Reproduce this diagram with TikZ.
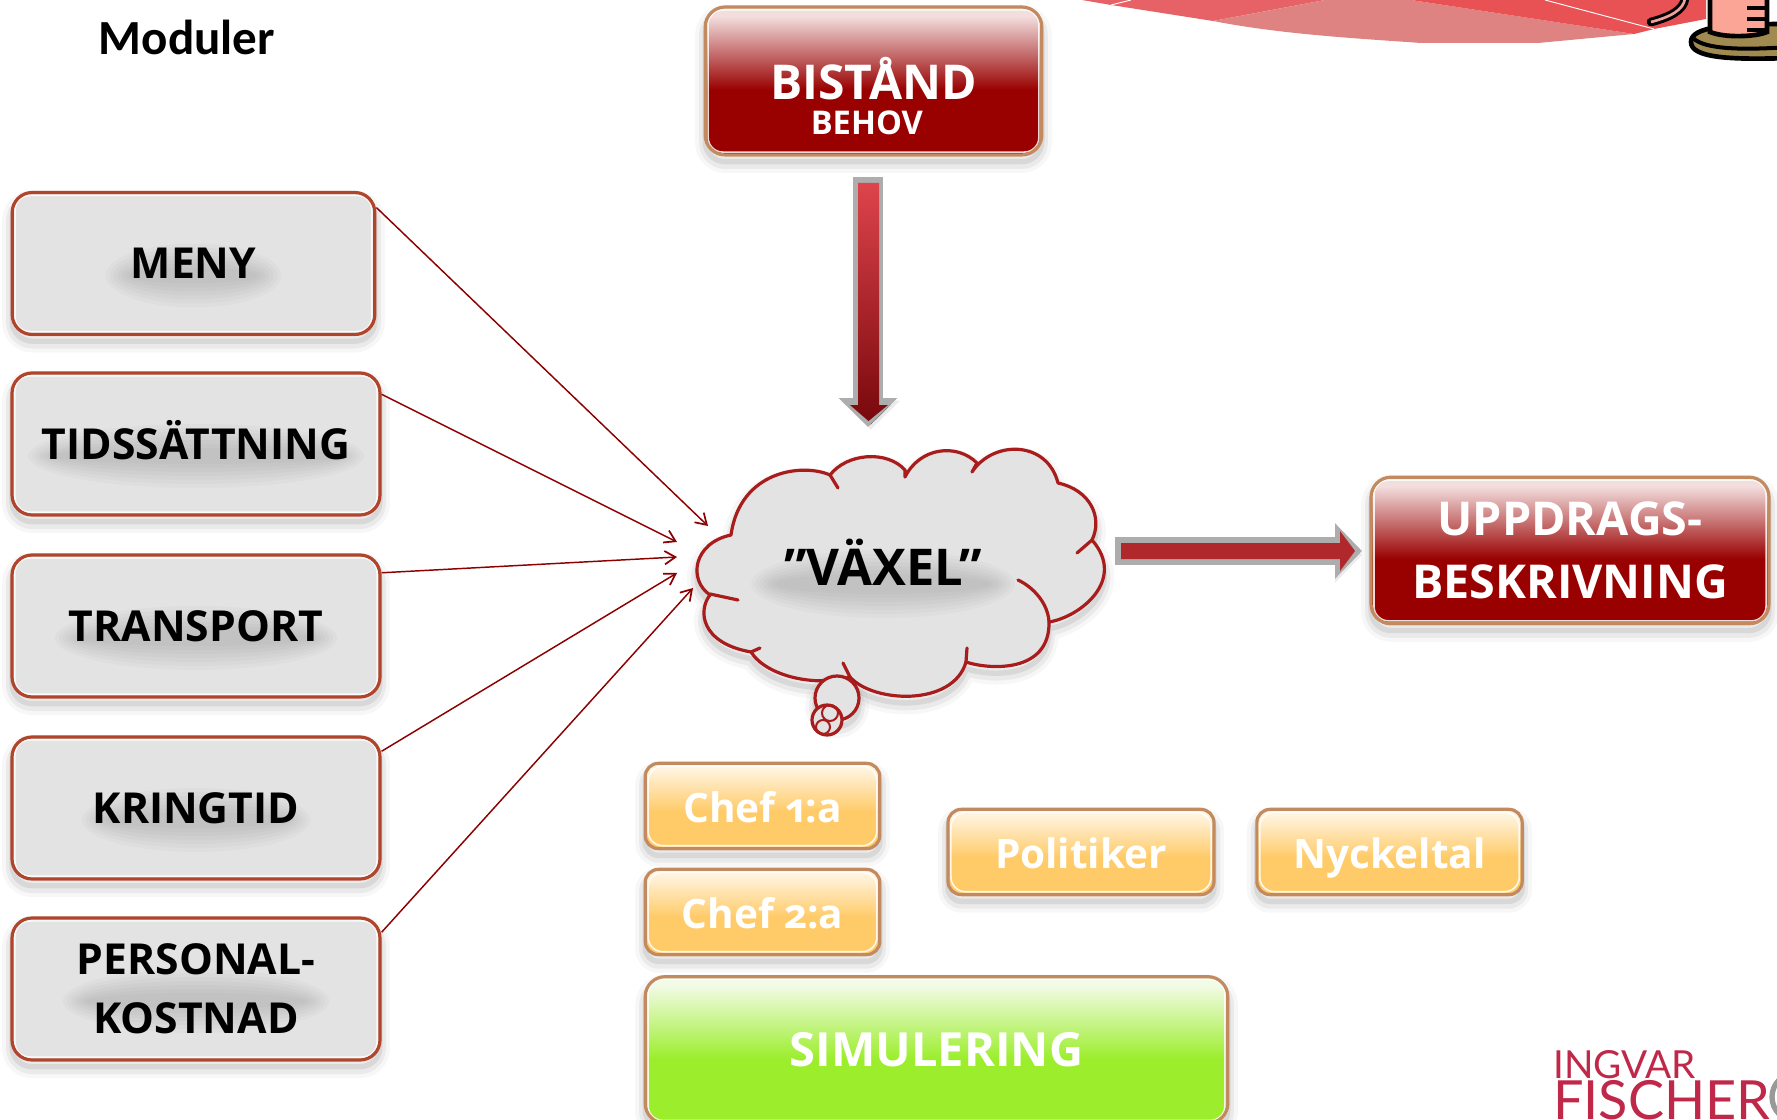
\documentclass[tikz,border=0pt]{standalone}
\usepackage{fontspec}
\setmainfont{Open Sans}
\newfontfamily\rubrikfont{Carlito}
\newfontfamily\logofont{Lato}
\newfontfamily\chiffer[Numbers=OldStyle]{Open Sans}
\usepackage{tikz}
\usetikzlibrary{arrows.meta}

\definecolor{rodkant}{HTML}{C28A5E}
\definecolor{modulkant}{HTML}{B0452C}
\definecolor{modulfyll}{HTML}{E3E3E3}
\definecolor{morkrod}{HTML}{990000}
\definecolor{ljusrod}{HTML}{F3DEDE}
\definecolor{orange}{HTML}{FFCB69}
\definecolor{ljusorange}{HTML}{FFF4E0}
\definecolor{gron}{HTML}{9CEE2D}
\definecolor{ljusgron}{HTML}{F2FBE6}
\definecolor{molnkant}{HTML}{A81C1C}
\definecolor{pilrod}{HTML}{8C0000}
\definecolor{logorod}{HTML}{C0284A}

\pgfdeclareverticalshading{glansrod}{100bp}{color(0bp)=(morkrod); color(47bp)=(morkrod); color(72bp)=(ljusrod); color(100bp)=(ljusrod)}
\pgfdeclareverticalshading{glansorange}{100bp}{color(0bp)=(orange); color(47bp)=(orange); color(72bp)=(ljusorange); color(100bp)=(ljusorange)}
\pgfdeclareverticalshading{glansgron}{100bp}{color(0bp)=(gron); color(47bp)=(gron); color(72bp)=(ljusgron); color(100bp)=(ljusgron)}

\tikzset{
  mjukskugga/.style={
    preaction={draw=black,draw opacity=.03,line width=15pt,line join=round,transform canvas={yshift=-6pt}},
    preaction={draw=black,draw opacity=.05,line width=9pt,line join=round,transform canvas={yshift=-6pt}},
    preaction={draw=black,draw opacity=.08,line width=4pt,line join=round,transform canvas={yshift=-5pt}}},
  kant/.style={draw=#1,line width=2.4pt,inner sep=0pt,align=center,rounded corners=15pt,mjukskugga},
  innerlinje/.style={path picture={
    \draw[white,line width=1.2pt,rounded corners=11pt,opacity=.85]
      ([xshift=2.2pt,yshift=2.2pt]path picture bounding box.south west) rectangle ([xshift=-2.2pt,yshift=-2.2pt]path picture bounding box.north east);}},
  modul/.style={kant=modulkant,fill=modulfyll,minimum width=276pt,minimum height=106.5pt,
    font=\bfseries\fontsize{32}{44}\selectfont,
    path picture={
    \foreach \d in {0,3,6,9,12,15,18} {
      \fill[black,opacity=.018] ([yshift=-9pt]path picture bounding box.center) ellipse [x radius=#1pt-\d pt,y radius=24pt-\d pt];
    }
    \draw[white,line width=1.2pt,rounded corners=11pt,opacity=.85]
      ([xshift=2.2pt,yshift=2.2pt]path picture bounding box.south west) rectangle ([xshift=-2.2pt,yshift=-2.2pt]path picture bounding box.north east);}},
  rodruta/.style={kant=rodkant,shading=glansrod,innerlinje,text=white,
    font=\bfseries\fontsize{35}{47}\selectfont},
  chefruta/.style={kant=rodkant,shading=glansorange,innerlinje,text=white,rounded corners=10pt,
    minimum height=64pt,text height=24.5pt,text depth=0pt,font=\chiffer\bfseries\fontsize{30.4}{34}\selectfont},
  simruta/.style={kant=rodkant,shading=glansgron,innerlinje,text=white,
    font=\bfseries\fontsize{35.3}{36}\selectfont},
  tunnpil/.style={draw=pilrod,line width=1.1pt,-{Straight Barb[length=8pt,width=10pt,line width=1.3pt]}},
  pilkant/.style={draw=black!32,line width=#1}
}

\begin{document}
\begin{tikzpicture}[x=0.75pt,y=0.75pt,yscale=-1,xscale=1]
\useasboundingbox (0,0) rectangle (1777,1120);
\clip (0,0) rectangle (1777,1120);

%Shape: Polygon band
\fill [color={rgb, 255:red, 230; green, 98; blue, 102 }] (1082,0) -- (1111,5) -- (1213,21) -- (1325,0) -- cycle ;
\fill [color={rgb, 255:red, 223; green, 130; blue, 130 }] (1213,21) .. controls (1280,34) and (1350,38) .. (1421,43) -- (1538,43) -- (1634,34) -- (1411,0) -- (1325,0) -- cycle ;
\fill [color={rgb, 255:red, 232; green, 82; blue, 84 }] (1411,0) -- (1634,34) -- (1654,29) -- (1706,19) -- (1706,0) -- cycle ;
\draw [white,line width=0.7] (1111,5) -- (1131,0) ;
\draw [white,line width=0.7] (1545,0) -- (1654,29) ;
%Shape: Free Drawing spool
\draw [line width=6.5,line cap=round] (1651,22) .. controls (1670,17) and (1684,10) .. (1685,-2) ;
\draw [color={rgb, 255:red, 240; green, 160; blue, 150 },line width=2] (1651,22) .. controls (1670,17) and (1684,10) .. (1685,-2) ;
\fill [color={rgb, 255:red, 160; green, 138; blue, 80 },draw=black,line width=3.5] (1691,42) .. controls (1691,26) and (1730,24) .. (1790,24) -- (1790,58) .. controls (1730,60) and (1691,58) .. (1691,42) -- cycle ;
\draw [line width=3] (1693,38) .. controls (1705,50) and (1745,50) .. (1790,47) ;
\fill [color={rgb, 255:red, 250; green, 165; blue, 150 },draw=black,line width=3.5] (1710,-3) -- (1710,32) .. controls (1725,38) and (1755,37) .. (1767,32) -- (1767,-3) -- cycle ;
\foreach \i in {8,19,30} { \draw [line width=3.5] (1747,\i) -- (1765,\i) ; }

%Shape: Modules
\node (meny) [modul=66,minimum width=272pt] at (193.5,263.5) {MENY};
\node (tids) [modul=126,text height=23pt,text depth=0pt] at (196,444) {TIDSSÄTTNING};
\node (transport) [modul=106] at (196,626) {TRANSPORT};
\node (kringtid) [modul=86] at (196,808) {KRINGTID};
\node (personal) [modul=100] at (196,989) {PERSONAL-\\KOSTNAD};

%Shape: Cloud
\draw [draw=molnkant,fill=modulfyll,line width=2.4,line join=round,mjukskugga] (731,535) .. controls (693,543) and (688,580) .. (710,595) .. controls (698,610) and (700,643) .. (751,652) .. controls (767,677) and (817,687) .. (850,677) .. controls (873,703) and (953,707) .. (966,662) .. controls (990,670) and (1050,673) .. (1049,622) .. controls (1080,617) and (1127,580) .. (1092,540) .. controls (1103,517) and (1090,490) .. (1058,483) .. controls (1047,440) and (993,440) .. (972,472) -- (977,463) .. controls (957,443) and (920,447) .. (905,477) -- (905,470) .. controls (887,450) and (847,453) .. (830,475) .. controls (803,463) and (740,470) .. (731,535) -- cycle ;
\draw [draw=molnkant,line width=2.4,line cap=round] (710,594) -- (738,600) ;
\draw [draw=molnkant,line width=2.4,line cap=round] (751,652) -- (760,648) ;
\draw [draw=molnkant,line width=2.4,line cap=round] (850,677) -- (843,663) ;
\draw [draw=molnkant,line width=2.4,line cap=round] (966,662) -- (967,648) ;
\draw [draw=molnkant,line width=2.4,line cap=round] (1049,622) .. controls (1048,603) and (1033,587) .. (1018,580) ;
\draw [draw=molnkant,line width=2.4,line cap=round] (1092,540) -- (1077,553) ;
\draw [draw=molnkant,line width=2.4,line cap=round] (830,475) -- (838,488) ;
\draw [draw=molnkant,fill=modulfyll,line width=2.4,mjukskugga] (837,698) circle [radius=22] ;
\draw [draw=molnkant,fill=modulfyll,line width=2.4] (827,720) circle [radius=15] ;
\draw [draw=molnkant,line width=1.5] (830,713) circle [radius=8] ;
\draw [draw=molnkant,line width=1.5] (823,727) circle [radius=7] ;
\foreach \d in {0,4,8,12,16,20,24} { \fill [black,opacity=.018] (883,584) ellipse [x radius=132-\d,y radius=34-\d] ; }

%Shape: Boxes
\node (bistand) [rodruta,minimum width=252.5pt,minimum height=111pt,font=\bfseries\fontsize{36}{26}\selectfont] at (873.5,81) {\rule{0pt}{54pt}BISTÅND\\\hspace*{-10pt}{\fontsize{24.5}{26}\selectfont BEHOV}};
\node (uppdrag) [rodruta,minimum width=298.5pt,minimum height=110pt] at (1570,550.5) {UPPDRAGS-\\BESKRIVNING};
\node (chef1) [chefruta,minimum width=176pt] at (762.5,806) {Chef 1:a};
\node (chef2) [chefruta,minimum width=176pt] at (762.5,912) {Chef 2:a};
\node (politiker) [chefruta,minimum width=199.5pt] at (1081,852) {Politiker};
\node (nyckeltal) [chefruta,minimum width=199pt] at (1389.5,852) {Nyckeltal};
\node (simulering) [simruta,minimum width=437pt,minimum height=110pt] at (936.5,1050) {SIMULERING};

%Shape: Block arrows
\coordinate (bistandfot) at (868,177) ;
\coordinate (vaxeltopp) at (868,427) ;
\coordinate (vaxelut) at (1115,551) ;
\coordinate (uppdragin) at (1362,551) ;
\draw [pilkant=22.5pt,-{Triangle[length=21.75pt,width=42.75pt]},preaction={draw=black,draw opacity=.08,transform canvas={xshift=2pt,yshift=-2pt}}] (bistandfot) -- (vaxeltopp) ;
\shade [top color={rgb, 255:red, 222; green, 68; blue, 76 },bottom color={rgb, 255:red, 120; green, 8; blue, 12 }] (858,183) -- (879,183) -- (879,405) -- (888,405) -- (868.5,421) -- (850,405) -- (858,405) -- cycle ;
\draw [pilkant=21pt,-{Triangle[length=20.25pt,width=40.5pt]},preaction={draw=black,draw opacity=.08,transform canvas={yshift=-3pt}}] (vaxelut) -- (uppdragin) ;
\fill [color={rgb, 255:red, 176; green, 40; blue, 44 }] (1121,543) -- (1340,543) -- (1340,531) -- (1355,551) -- (1340,571) -- (1340,559) -- (1121,559) -- cycle ;

%Curve Lines
\coordinate (in1) at (708,526) ;
\coordinate (in2) at (677,542) ;
\coordinate (in3) at (677,557) ;
\coordinate (in4) at (677,573) ;
\coordinate (in5) at (693,588) ;
\draw [tunnpil] (meny.17) -- (in1) ;
\draw [tunnpil] (tids.15.5) -- (in2) ;
\draw [tunnpil] (transport.16.6) -- (in3) ;
\draw [tunnpil] (kringtid.17) -- (in4) ;
\draw [tunnpil] (personal.17.8) -- (in5) ;

% Text Node
\node (moduler) [font=\rubrikfont\bfseries\fontsize{36.8}{40}\selectfont,inner sep=0pt] at (187,37) {Moduler};
% Text Node
\node (vaxel) [font=\bfseries\fontsize{38}{42}\selectfont,inner sep=0pt,anchor=base] at (883,585) {”VÄXEL”};
% Text Node
\node (ingvar) [font=\logofont\fontsize{29}{30}\selectfont,text=logorod,anchor=base west,inner sep=0pt] at (1553,1078) {INGVAR};
% Text Node
\node (fischer) [font=\logofont\fontsize{40.5}{42}\selectfont,text=logorod,anchor=base west,inner sep=0pt] at (1553,1119) {FISCHER};
\draw [black!40,line width=4] (1796,1097) circle [radius=24] ;
\end{tikzpicture}
\end{document}
